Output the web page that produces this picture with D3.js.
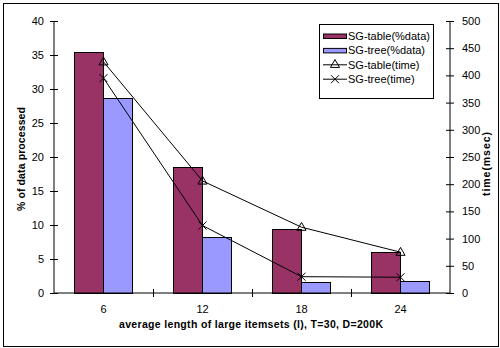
<!DOCTYPE html>
<html>
<head>
<meta charset="utf-8">
<script src="https://cdn.jsdelivr.net/npm/d3@7"></script>
<style>
  html, body { margin: 0; padding: 0; background: #fff; }
  svg { display: block; }
  text { font-family: "Liberation Sans", Arial, sans-serif; fill: #000; }
</style>
</head>
<body>
<script>
// Average length of large itemsets
const categories = ["6", "12", "18", "24"];
// Percentage of data processed
const tablePct = [35.4, 18.5, 9.4, 6.0];
const treePct = [28.6, 8.2, 1.6, 1.7];
// Running time in msec
const tableTime = [425, 206, 121, 75];
const treeTime = [395, 124, 30, 29];
const leftTicks = [0, 5, 10, 15, 20, 25, 30, 35, 40];
const rightTicks = [0, 50, 100, 150, 200, 250, 300, 350, 400, 450, 500];

const W = 500, H = 348;
const plot = { left: 54, right: 450, top: 21, bottom: 293 };

const svg = d3.select("body").append("svg").attr("width", W).attr("height", H);

// outer frame
svg.append("rect").attr("x", 3.5).attr("y", 3.5).attr("width", 495).attr("height", 343)
  .attr("fill", "#fff").attr("stroke", "#000").attr("stroke-width", 1);

const x0 = d3.scaleBand().domain(categories).range([plot.left, plot.right])
  .paddingInner(0.424).paddingOuter(0.212);
const x1 = d3.scaleBand().domain(["table", "tree"]).range([0, x0.bandwidth()]);
const yL = d3.scaleLinear().domain([0, 40]).range([plot.bottom, plot.top]);
const yR = d3.scaleLinear().domain([0, 500]).range([plot.bottom, plot.top]);
const cx = c => x0(c) + x0.bandwidth() / 2;

// bars
const series = [
  { key: "table", values: tablePct, color: "#993366" },
  { key: "tree", values: treePct, color: "#9999FF" }
];
series.forEach(s => {
  svg.append("g").selectAll("rect").data(categories).join("rect")
    .attr("x", c => x0(c) + x1(s.key))
    .attr("y", (c, i) => yL(s.values[i]))
    .attr("width", x1.bandwidth())
    .attr("height", (c, i) => yL(0) - yL(s.values[i]))
    .attr("fill", s.color)
    .attr("stroke", "#000").attr("stroke-width", 1).attr("shape-rendering", "crispEdges");
});

// axes
const tickSize = 4;
const leftAxis = d3.axisLeft(yL).tickValues(leftTicks).tickSize(tickSize).tickPadding(6);
const gL = svg.append("g").attr("transform", `translate(${plot.left},0)`).call(leftAxis);
const rightAxis = d3.axisRight(yR).tickValues(rightTicks).tickSize(tickSize).tickPadding(8);
const gR = svg.append("g").attr("transform", `translate(${plot.right},0)`).call(rightAxis);
const xAxis = d3.axisBottom(d3.scaleLinear().domain([0, 4]).range([plot.left, plot.right]))
  .tickValues([1, 2, 3]).tickSize(tickSize).tickFormat("");
const gX = svg.append("g").attr("transform", `translate(0,${plot.bottom})`).call(xAxis);

[gL, gR, gX].forEach(g => {
  g.select(".domain").remove();
  g.selectAll(".tick text").style("font-size", "11px").attr("font-family", "Liberation Sans, Arial, sans-serif");
  g.selectAll(".tick line").attr("stroke", "#000");
});
// ticks cross the axis line on both sides
gL.selectAll(".tick line").attr("x1", -tickSize).attr("x2", tickSize);
gR.selectAll(".tick line").attr("x1", -tickSize).attr("x2", tickSize);
gX.selectAll(".tick line").attr("y1", -tickSize).attr("y2", tickSize);

svg.append("line").attr("x1", plot.left).attr("x2", plot.left).attr("y1", plot.top).attr("y2", plot.bottom).attr("stroke", "#000");
svg.append("line").attr("x1", plot.right).attr("x2", plot.right).attr("y1", plot.top).attr("y2", plot.bottom).attr("stroke", "#000");
svg.append("line").attr("x1", plot.left).attr("x2", plot.right).attr("y1", plot.bottom).attr("y2", plot.bottom).attr("stroke", "#000");

// category labels
svg.append("g").selectAll("text").data(categories).join("text")
  .attr("x", c => cx(c)).attr("y", 313)
  .attr("text-anchor", "middle").style("font-size", "11px").text(c => c);

// axis titles
svg.append("text").attr("x", 251).attr("y", 328).attr("text-anchor", "middle")
  .style("font-size", "10.5px").style("font-weight", "bold")
  .attr("textLength", 264).attr("lengthAdjust", "spacing")
  .text("average length of large itemsets (l), T=30, D=200K");
svg.append("text").attr("transform", "translate(25,159) rotate(-90)").attr("text-anchor", "middle")
  .style("font-size", "10.5px").style("font-weight", "bold")
  .attr("textLength", 104).attr("lengthAdjust", "spacing").text("% of data processed");
svg.append("text").attr("transform", "translate(490,164) rotate(-90)").attr("text-anchor", "middle")
  .style("font-size", "10.5px").style("font-weight", "bold")
  .attr("textLength", 64).attr("lengthAdjust", "spacing").text("time(msec)");

// time lines
const line = d3.line().x((d, i) => cx(categories[i])).y(d => yR(d));
const triangle = d3.symbol().type(d3.symbolTriangle).size(36);
const crossPath = s => `M${-s},${-s}L${s},${s}M${-s},${s}L${s},${-s}`;

svg.append("path").datum(tableTime).attr("d", line).attr("fill", "none").attr("stroke", "#000").attr("stroke-width", 1);
svg.append("path").datum(treeTime).attr("d", line).attr("fill", "none").attr("stroke", "#000").attr("stroke-width", 1);

svg.append("g").selectAll("path").data(tableTime).join("path")
  .attr("transform", (d, i) => `translate(${cx(categories[i])},${yR(d) + 0.5})`)
  .attr("d", triangle).attr("fill", "none").attr("stroke", "#000").attr("stroke-width", 1);
svg.append("g").selectAll("path").data(treeTime).join("path")
  .attr("transform", (d, i) => `translate(${cx(categories[i])},${yR(d)})`)
  .attr("d", crossPath(4)).attr("fill", "none").attr("stroke", "#000").attr("stroke-width", 1);

// legend
const lg = svg.append("g");
lg.append("rect").attr("x", 319.5).attr("y", 24.5).attr("width", 114).attr("height", 74)
  .attr("fill", "#fff").attr("stroke", "#000").attr("stroke-width", 1);
const legendItems = [
  { label: "SG-table(%data)", type: "bar", color: "#993366" },
  { label: "SG-tree(%data)", type: "bar", color: "#9999FF" },
  { label: "SG-table(time)", type: "tri" },
  { label: "SG-tree(time)", type: "cross" }
];
legendItems.forEach((it, i) => {
  const yc = 36 + i * 14.4;
  if (it.type === "bar") {
    lg.append("rect").attr("x", 323.5).attr("y", yc - 2).attr("width", 23).attr("height", 4.5)
      .attr("fill", it.color).attr("stroke", "#000").attr("stroke-width", 1);
  } else {
    lg.append("line").attr("x1", 323).attr("x2", 347).attr("y1", yc).attr("y2", yc).attr("stroke", "#000");
    const sym = lg.append("path").attr("transform", `translate(335,${yc})`)
      .attr("fill", "none").attr("stroke", "#000").attr("stroke-width", 1);
    if (it.type === "tri") sym.attr("d", triangle);
    else sym.attr("d", crossPath(4));
  }
  lg.append("text").attr("x", 348).attr("y", yc + 4).style("font-size", "11px").text(it.label);
});
</script>
</body>
</html>
